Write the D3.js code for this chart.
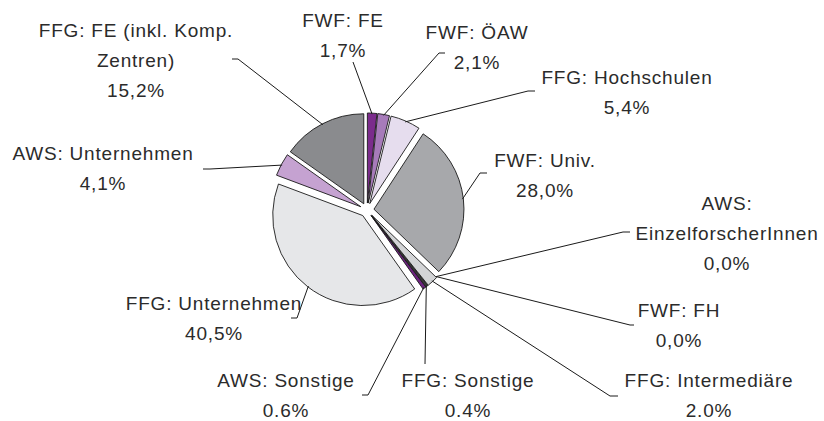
<!DOCTYPE html>
<html>
<head>
<meta charset="utf-8">
<script src="https://cdn.jsdelivr.net/npm/d3@7"></script>
<style>
  html, body { margin: 0; padding: 0; background: #fff; }
  svg { display: block; }
  .lbl { font-family: "Liberation Sans", Arial, sans-serif; font-size: 19px; letter-spacing: 0.8px; fill: #2b2b2b; }
</style>
</head>
<body>
<div id="chart"></div>
<script>
// data (clockwise from 12 o'clock)
const categories = [
  "FWF: FE", "FWF: ÖAW", "FFG: Hochschulen", "FWF: Univ.",
  "AWS: EinzelforscherInnen", "FWF: FH", "FFG: Intermediäre", "FFG: Sonstige",
  "AWS: Sonstige", "FFG: Unternehmen", "AWS: Unternehmen", "FFG: FE (inkl. Komp. Zentren)"
];
const shares = [1.7, 2.1, 5.4, 28.0, 0.0, 0.0, 2.0, 0.4, 0.6, 40.5, 4.1, 15.2];
// decimal mark as printed in the source
const decimalMarks = [",", ",", ",", ",", ",", ",", ".", ".", ".", ",", ",", ","];
// how the category names wrap
const nameLines = [
  ["FWF: FE"], ["FWF: ÖAW"], ["FFG: Hochschulen"], ["FWF: Univ."],
  ["AWS:", "EinzelforscherInnen"], ["FWF: FH"], ["FFG: Intermediäre"], ["FFG: Sonstige"],
  ["AWS: Sonstige"], ["FFG: Unternehmen"], ["AWS: Unternehmen"], ["FFG: FE (inkl. Komp.", "Zentren)"]
];
const colors = [
  "#7b2c8c", "#a77bba", "#e6ddee", "#a7a8ab",
  "#ffffff", "#ffffff", "#d3d4d6", "#3a3a3a",
  "#6d2180", "#e6e7e9", "#c5a2d1", "#8a8b8e"
];

// label layout: block centre (x, first line y), leader elbow, tick length
const labelLayout = [
  { x: 343, y: 20, ex: 353, ey: 62, tick: 0 },
  { x: 477, y: 32, ex: 439, ey: 53, tick: 6 },
  { x: 627, y: 77, ex: 528, ey: 91, tick: 7 },
  { x: 545, y: 160, ex: 480, ey: 173, tick: 7 },
  { x: 727, y: 203, ex: 623, ey: 232, tick: 7 },
  { x: 679, y: 310, ex: 630, ey: 325, tick: 4 },
  { x: 709, y: 380, ex: 610, ey: 396, tick: 8 },
  { x: 468, y: 380, ex: 425, ey: 364, tick: 0 },
  { x: 286, y: 380, ex: 368, ey: 395, tick: -6 },
  { x: 214, y: 303, ex: 297, ey: 318, tick: -6 },
  { x: 103, y: 153, ex: 210, ey: 169, tick: -7 },
  { x: 136, y: 30, ex: 238, ey: 59, tick: -6 }
];

const width = 824, height = 421;
const cx = 367, cy = 210, radius = 90, explode = 7, lineGap = 30;

const svg = d3.select("#chart").append("svg")
  .attr("width", width)
  .attr("height", height);

const data = categories.map((c, i) => ({
  name: c,
  value: shares[i],
  lines: nameLines[i],
  label: d3.format(".1f")(shares[i]).replace(".", decimalMarks[i]) + "%",
  color: colors[i],
  layout: labelLayout[i]
}));

const pie = d3.pie().sort(null).value(d => d.value);
const arcs = pie(data);
const arc = d3.arc().innerRadius(0).outerRadius(radius);

const mid = d => (d.startAngle + d.endAngle) / 2;

const g = svg.append("g").attr("transform", `translate(${cx},${cy})`);

// slices
g.selectAll("path.slice")
  .data(arcs.filter(d => d.value > 0))
  .enter()
  .append("path")
  .attr("class", "slice")
  .attr("d", arc)
  .attr("transform", d => {
    const a = mid(d);
    return `translate(${explode * Math.sin(a)},${-explode * Math.cos(a)})`;
  })
  .attr("fill", d => d.data.color)
  .attr("stroke", "#1a1a1a")
  .attr("stroke-width", 0.9)
  .attr("stroke-linejoin", "round");

// leader lines
svg.append("g").selectAll("polyline")
  .data(arcs)
  .enter()
  .append("polyline")
  .attr("points", d => {
    const a = mid(d);
    const r = radius + explode - 1;
    const px = cx + r * Math.sin(a), py = cy - r * Math.cos(a);
    const L = d.data.layout;
    const pts = [[px, py], [L.ex, L.ey]];
    if (L.tick) pts.push([L.ex + L.tick, L.ey]);
    return pts.map(p => p.join(",")).join(" ");
  })
  .attr("fill", "none")
  .attr("stroke", "#1a1a1a")
  .attr("stroke-width", 1);

// labels
const labels = svg.append("g").selectAll("text")
  .data(data)
  .enter()
  .append("text")
  .attr("class", "lbl")
  .attr("text-anchor", "middle");

labels.each(function (d) {
  const t = d3.select(this);
  const rows = d.lines.concat([d.label]);
  rows.forEach((row, k) => {
    t.append("tspan")
      .attr("x", d.layout.x)
      .attr("y", d.layout.y + k * lineGap)
      .attr("dy", "0.35em")
      .text(row);
  });
});
</script>
</body>
</html>
